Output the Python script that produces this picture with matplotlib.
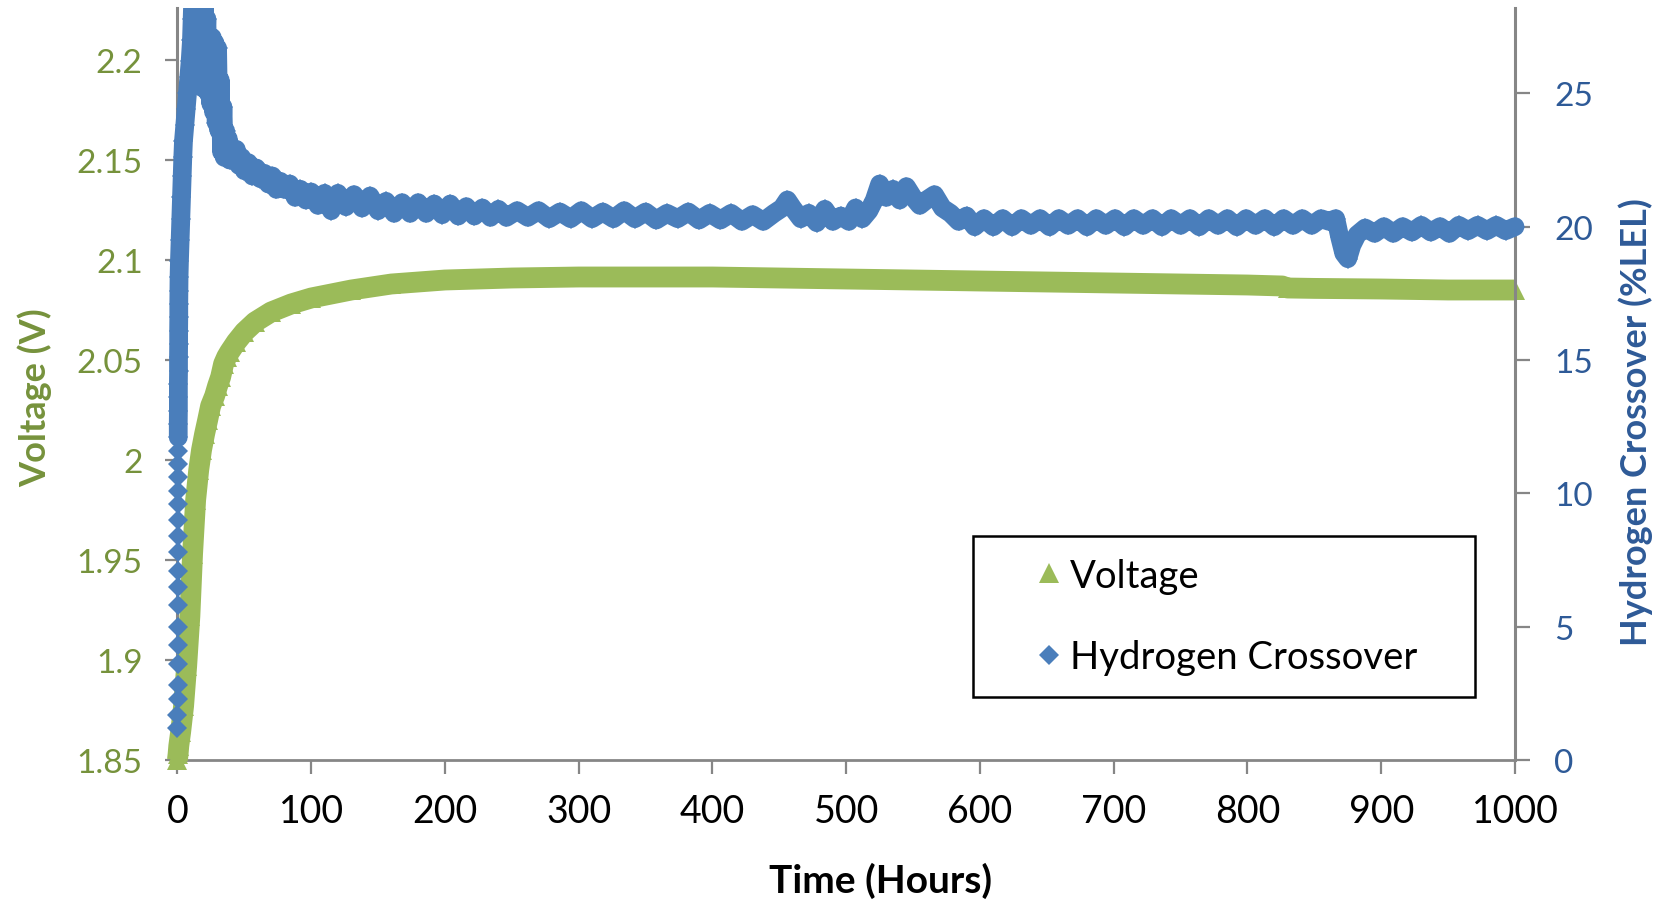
import matplotlib
matplotlib.use('Agg')
import matplotlib.pyplot as plt
from matplotlib.patches import Rectangle

plt.rcParams['font.family'] = ['Lato', 'DejaVu Sans']

# voltage series (hours, V)
volt_hours = [0, 0.5, 1, 2.4, 4.6, 6.9, 9.3, 11.3, 13.6, 15.9, 18, 20.3, 22.6, 24.8, 27.8, 30,
              32.3, 34.5, 36.8, 39, 44, 50, 58, 70, 85, 100, 130, 160, 200, 250, 300, 350,
              400, 450, 500, 550, 600, 650, 700, 750, 800, 826, 830, 850, 900, 950, 1000]
volt_values = [1.850, 1.853, 1.857, 1.864, 1.877, 1.897, 1.922, 1.953, 1.980, 1.995, 2.005, 2.013,
               2.020, 2.027, 2.032, 2.037, 2.0415, 2.048, 2.0515, 2.054, 2.059, 2.064, 2.069, 2.074,
               2.078, 2.081, 2.085, 2.088, 2.090, 2.091, 2.0915, 2.0915, 2.0915, 2.091, 2.0905,
               2.090, 2.0895, 2.089, 2.0885, 2.088, 2.0875, 2.087, 2.086, 2.0858, 2.0855, 2.085, 2.085]

# hydrogen crossover series (hours, %LEL)
h2_hours = [0, 0, 0.1, 0.1, 0.1, 0.2, 0.2, 0.2, 0.3, 0.3, 0.3, 0.4, 0.4, 0.4, 0.5, 0.5, 0.5, 0.6,
            0.6, 0.6, 0.7, 0.7, 0.7, 0.8, 0.8, 0.9, 0.9, 1.0, 1.0, 1.1, 1.2,
            1.5, 2, 2.5, 3, 3.5, 4, 4.5, 5.5, 6.5, 7.5, 8.5, 9.5, 10.5, 11, 11.5,
            12, 13, 14, 15, 16, 17, 18, 19, 20, 21, 22, 23, 24, 25, 26, 27, 28, 29, 30,
            31, 32, 33, 34, 35, 36, 37, 38, 39, 40, 42, 44, 46, 48, 50, 53, 56, 59, 62,
            65, 68, 71, 74, 77, 80, 84, 88, 92, 96, 100, 105, 110, 115, 120, 126, 132,
            138, 144, 150, 156, 162, 168, 174, 180, 186, 192, 198, 204, 210, 216, 222,
            228, 234, 240, 246, 254, 262, 270, 278, 286, 294, 302, 310, 318, 326, 334,
            342, 350, 358, 366, 374, 382, 390, 398, 406, 414, 422, 430, 438, 446, 452,
            456, 460, 466, 472, 478, 484, 490, 496, 502, 507, 512, 517, 521, 525, 530,
            535, 540, 545, 550, 555, 560, 566, 572, 578, 584, 590, 596, 603, 610, 617,
            624, 631, 638, 645, 652, 659, 666, 673, 680, 687, 694, 701, 708, 715, 722,
            729, 736, 743, 750, 757, 764, 771, 778, 785, 792, 799, 806, 813, 820, 827,
            834, 841, 848, 855, 861, 866, 869, 872, 875, 878, 882, 888, 895, 902, 909,
            916, 923, 930, 937, 944, 951, 958, 965, 972, 979, 986, 993, 1000]
h2_values = [1.2, 1.7, 2.3, 2.8, 3.6, 4.3, 5.0, 5.8, 6.5, 7.1, 7.8, 8.4, 9.0, 9.6, 10.1, 10.6, 11.1,
             11.6, 12.1, 12.6, 13.1, 13.6, 14.1, 14.6, 15.1, 15.6, 16.1, 16.6, 17.1, 17.6, 18.1,
             18.7, 19.5, 20.3, 21.1, 21.9, 22.6, 23.2, 23.8, 24.4, 25.0, 25.6, 26.2, 27.0, 27.8, 28.6,
             29.0, 28.5, 29.2, 27.4, 28.8, 26.2, 29.0, 25.2, 28.4, 26.5, 27.8, 25.0, 27.0, 24.6, 27.1,
             24.3, 26.9, 23.9, 26.7, 23.6, 25.5, 22.8, 24.5, 22.6, 23.6, 22.7, 23.3, 22.5, 23.0,
             22.5, 22.9, 22.3, 22.6, 22.1, 22.4, 21.9, 22.2, 21.8, 22.0, 21.6, 21.9, 21.4, 21.7,
             21.4, 21.6, 21.1, 21.4, 21.0, 21.3, 20.8, 21.25, 20.6, 21.25, 20.75, 21.2, 20.7, 21.15,
             20.6, 20.95, 20.5, 20.9, 20.5, 20.9, 20.5, 20.85, 20.45, 20.85, 20.4, 20.75, 20.4, 20.7,
             20.35, 20.65, 20.35, 20.6, 20.35, 20.6, 20.3, 20.55, 20.3, 20.6, 20.3, 20.55, 20.3, 20.6,
             20.3, 20.55, 20.25, 20.5, 20.3, 20.55, 20.25, 20.5, 20.25, 20.5, 20.2, 20.45, 20.2,
             20.5, 20.7, 21.0, 20.7, 20.3, 20.5, 20.15, 20.65, 20.2, 20.4, 20.2, 20.7, 20.3, 20.6,
             21.0, 21.6, 21.1, 21.4, 21.0, 21.5, 21.1, 20.8, 21.0, 21.2, 20.7, 20.5, 20.2, 20.4,
             20.0, 20.3, 20.0, 20.3, 20.0, 20.3, 20.05, 20.3, 20.0, 20.3, 20.05, 20.3, 20.0, 20.3,
             20.05, 20.3, 20.0, 20.3, 20.05, 20.3, 20.0, 20.3, 20.05, 20.3, 20.0, 20.3, 20.05, 20.3,
             20.0, 20.3, 20.05, 20.3, 20.0, 20.3, 20.05, 20.3, 20.05, 20.3, 20.2, 20.3, 19.6, 19.0,
             18.8, 19.3, 19.7, 19.95, 19.75, 20.0, 19.75, 20.0, 19.8, 20.05, 19.8, 20.0, 19.75,
             20.05, 19.85, 20.05, 19.85, 20.05, 19.85, 20.0]

hour_ticks = list(range(0, 1001, 100))
volt_ticks = [1.85, 1.9, 1.95, 2.0, 2.05, 2.1, 2.15, 2.2]
volt_ticklabels = ['1.85', '1.9', '1.95', '2', '2.05', '2.1', '2.15', '2.2']
h2_ticks = [0, 5, 10, 15, 20, 25]

green = '#9BBB59'
blue = '#4A7EBB'
olive = '#76923C'
navy = '#2E5A97'
gray = '#868686'

fig = plt.figure(figsize=(16.63, 9.03), dpi=100)
ax = fig.add_axes([0.1067, 0.1573, 0.8043, 0.8327])
ax2 = ax.twinx()

# thick lines under the markers so the dense points read as one band
ax.plot(volt_hours, volt_values, color=green, lw=15, solid_capstyle='butt',
        zorder=3, label='_nolegend_')
v_pts, = ax.plot(volt_hours, volt_values, ls='none', marker='^', ms=15, mew=0,
                 color=green, zorder=3, label='Voltage')
# the first readings stay as separate diamonds, band starts once they crowd together
ax2.plot(h2_hours[18:], h2_values[18:], color=blue, lw=13.5, solid_joinstyle='round',
         solid_capstyle='round', zorder=3, label='_nolegend_')
h_pts, = ax2.plot(h2_hours, h2_values, ls='none', marker='D', ms=10, mew=0,
                  color=blue, zorder=3, label='Hydrogen Crossover')

# clip only at the top, markers spill over the other edges like in Excel
for a in (ax, ax2):
    for ln in a.get_lines():
        ln.set_clip_path(Rectangle((-0.05, -0.05), 1.1, 1.05, transform=a.transAxes))

ax.set_xlim(0, 1000)
ax.set_ylim(1.85, 2.226)
ax2.set_ylim(0, 28.2)

ax.set_xticks(hour_ticks)
ax.set_yticks(volt_ticks)
ax.set_yticklabels(volt_ticklabels)
ax2.set_yticks(h2_ticks)

for s in ('top', 'right'):
    ax.spines[s].set_visible(False)
for s in ('top', 'left', 'bottom'):
    ax2.spines[s].set_visible(False)
ax.spines['left'].set_color(gray)
ax.spines['left'].set_linewidth(2.2)
ax.spines['bottom'].set_color(gray)
ax.spines['bottom'].set_linewidth(2.0)
ax2.spines['right'].set_color(gray)
ax2.spines['right'].set_linewidth(2.2)

ax.tick_params(axis='x', direction='out', length=10, width=1.6, color=gray,
               labelsize=27, labelcolor='black', pad=14)
ax.tick_params(axis='y', direction='out', length=9, width=1.6, color=gray,
               labelsize=24, labelcolor=olive, pad=16)
ax2.tick_params(axis='y', direction='out', length=11, width=1.6, color=gray,
                labelsize=24, labelcolor=navy, pad=17)

ax.set_xlabel('Time (Hours)', fontsize=28, fontweight='bold', color='black')
ax.set_ylabel('Voltage (V)', fontsize=26, fontweight='bold', color=olive)
ax2.set_ylabel('Hydrogen Crossover (%LEL)', fontsize=26, fontweight='bold', color=navy)
ax.xaxis.set_label_coords(0.526, -0.136)
ax.yaxis.set_label_coords(-0.0938, 0.483)
ax2.yaxis.set_label_coords(1.077, 0.451)

leg = ax2.legend([v_pts, h_pts], ['Voltage', 'Hydrogen Crossover'],
                 loc='upper left', bbox_to_anchor=(0.595, 0.0864, 0.3753, 0.2116),
                 mode='expand', numpoints=1, fontsize=27.5, frameon=True, fancybox=False,
                 edgecolor='black', framealpha=1, borderpad=0.57, handlelength=2.8,
                 handletextpad=-0.85, labelspacing=1.2, borderaxespad=0)
leg.get_frame().set_linewidth(1.8)

fig.savefig('out.png', dpi=100)
